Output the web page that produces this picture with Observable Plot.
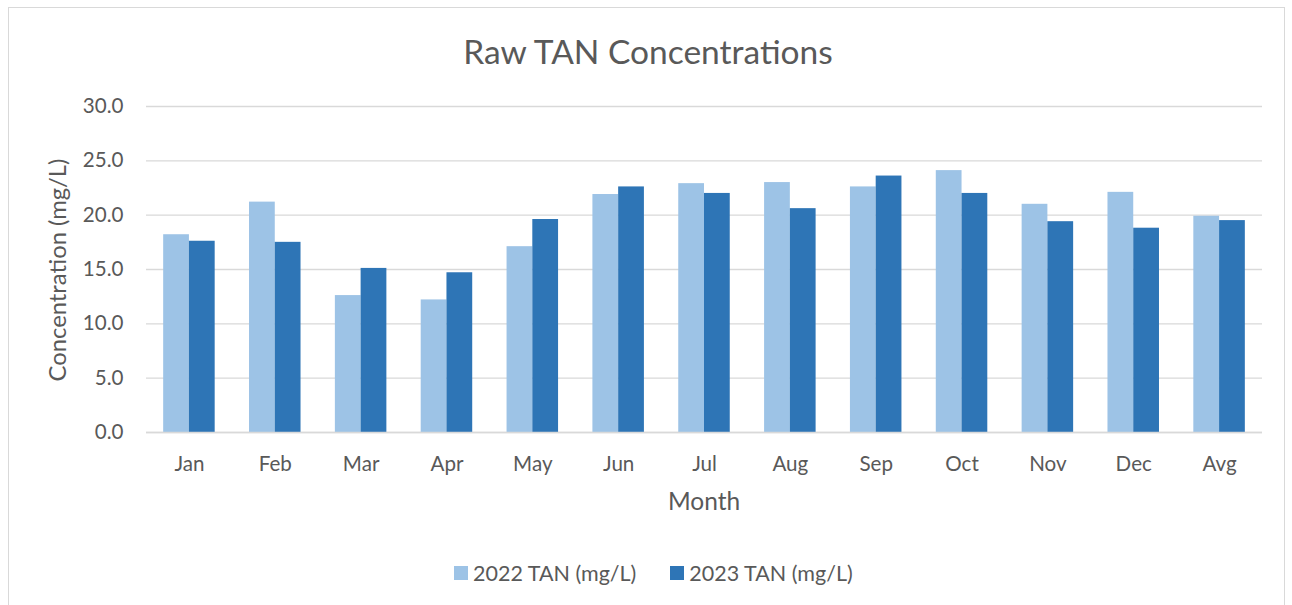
<!DOCTYPE html>
<html><head><meta charset="utf-8">
<script src="https://cdn.jsdelivr.net/npm/d3@7"></script>
<script src="https://cdn.jsdelivr.net/npm/@observablehq/plot@0.6"></script>
<style>
body{margin:0;background:#fff;font-family:Lato,sans-serif;color:#595959}
#wrap{position:relative;width:1292px;height:605px;overflow:hidden;background:#fff}
#frame{position:absolute;left:8px;top:7px;width:1275px;height:640px;border:1px solid #d9d9d9}
#title{position:absolute;top:30px;left:0;width:1296px;text-align:center;font-size:33.5px;line-height:42px}
#chart{position:absolute;left:0;top:80px}
#ytitle{position:absolute;left:57px;top:270px;transform:translate(-50%,-50%) rotate(-90deg);font-size:23.8px;white-space:nowrap}
#xtitle{position:absolute;left:0;width:1408px;top:487px;text-align:center;font-size:24.5px;line-height:28px}
#legend{position:absolute;top:560px;left:454px;font-size:21.5px;line-height:26px;display:flex;align-items:center;white-space:nowrap}
.sw{display:inline-block;width:14px;height:14px;margin-right:5px}
.item{display:flex;align-items:center;margin-right:34px}
</style></head>
<body>
<div id="wrap">
  <div id="frame"></div>
  <div id="title">Raw TAN Concentrations</div>
  <div id="chart"></div>
  <div id="ytitle">Concentration (mg/L)</div>
  <div id="xtitle">Month</div>
  <div id="legend"></div>
</div>
<script>
const months = ["Jan","Feb","Mar","Apr","May","Jun","Jul","Aug","Sep","Oct","Nov","Dec","Avg"];
const tan2022 = [18.2, 21.2, 12.6, 12.2, 17.1, 21.9, 22.9, 23.0, 22.6, 24.1, 21.0, 22.1, 19.9];
const tan2023 = [17.6, 17.5, 15.1, 14.7, 19.6, 22.6, 22.0, 20.6, 23.6, 22.0, 19.4, 18.8, 19.5];
const seriesNames = ["2022 TAN (mg/L)", "2023 TAN (mg/L)"];
const seriesColors = ["#9dc3e6", "#2e75b6"];
const yTicks = [0, 5, 10, 15, 20, 25, 30];

const d2022 = months.map((m, i) => ({month: m, value: tan2022[i]}));
const d2023 = months.map((m, i) => ({month: m, value: tan2023[i]}));

const W = 1292, mL = 146, mR = 30;
const step = (W - mL - mR) / 13;
const half = step * 0.6 / 2;

const chart = Plot.plot({
  width: W, height: 440,
  marginLeft: mL, marginRight: mR, marginTop: 26, marginBottom: 88,
  style: {fontFamily: "Lato, sans-serif", fontSize: "20.6px", color: "#595959", background: "transparent"},
  x: {domain: months, round: false, paddingInner: 0.4, paddingOuter: 0.2, label: null, tickSize: 0, tickPadding: 24},
  y: {domain: [0, 30], ticks: yTicks, tickFormat: d => d.toFixed(1), tickSize: 0, tickPadding: 23, label: null},
  marks: [
    Plot.ruleY(yTicks, {stroke: "#d9d9d9", strokeWidth: 1.3}),
    Plot.barY(d2022, {x: "month", y: "value", fill: seriesColors[0], insetLeft: 0, insetRight: half}),
    Plot.barY(d2023, {x: "month", y: "value", fill: seriesColors[1], insetLeft: half, insetRight: 0}),
    Plot.ruleY([0], {stroke: "#d9d9d9", strokeWidth: 1.3})
  ]
});
document.getElementById("chart").appendChild(chart);

const legend = document.getElementById("legend");
seriesNames.forEach((n, i) => {
  const it = document.createElement("div");
  it.className = "item";
  it.innerHTML = `<span class="sw" style="background:${seriesColors[i]}"></span><span>${n}</span>`;
  legend.appendChild(it);
});
</script>
</body></html>
